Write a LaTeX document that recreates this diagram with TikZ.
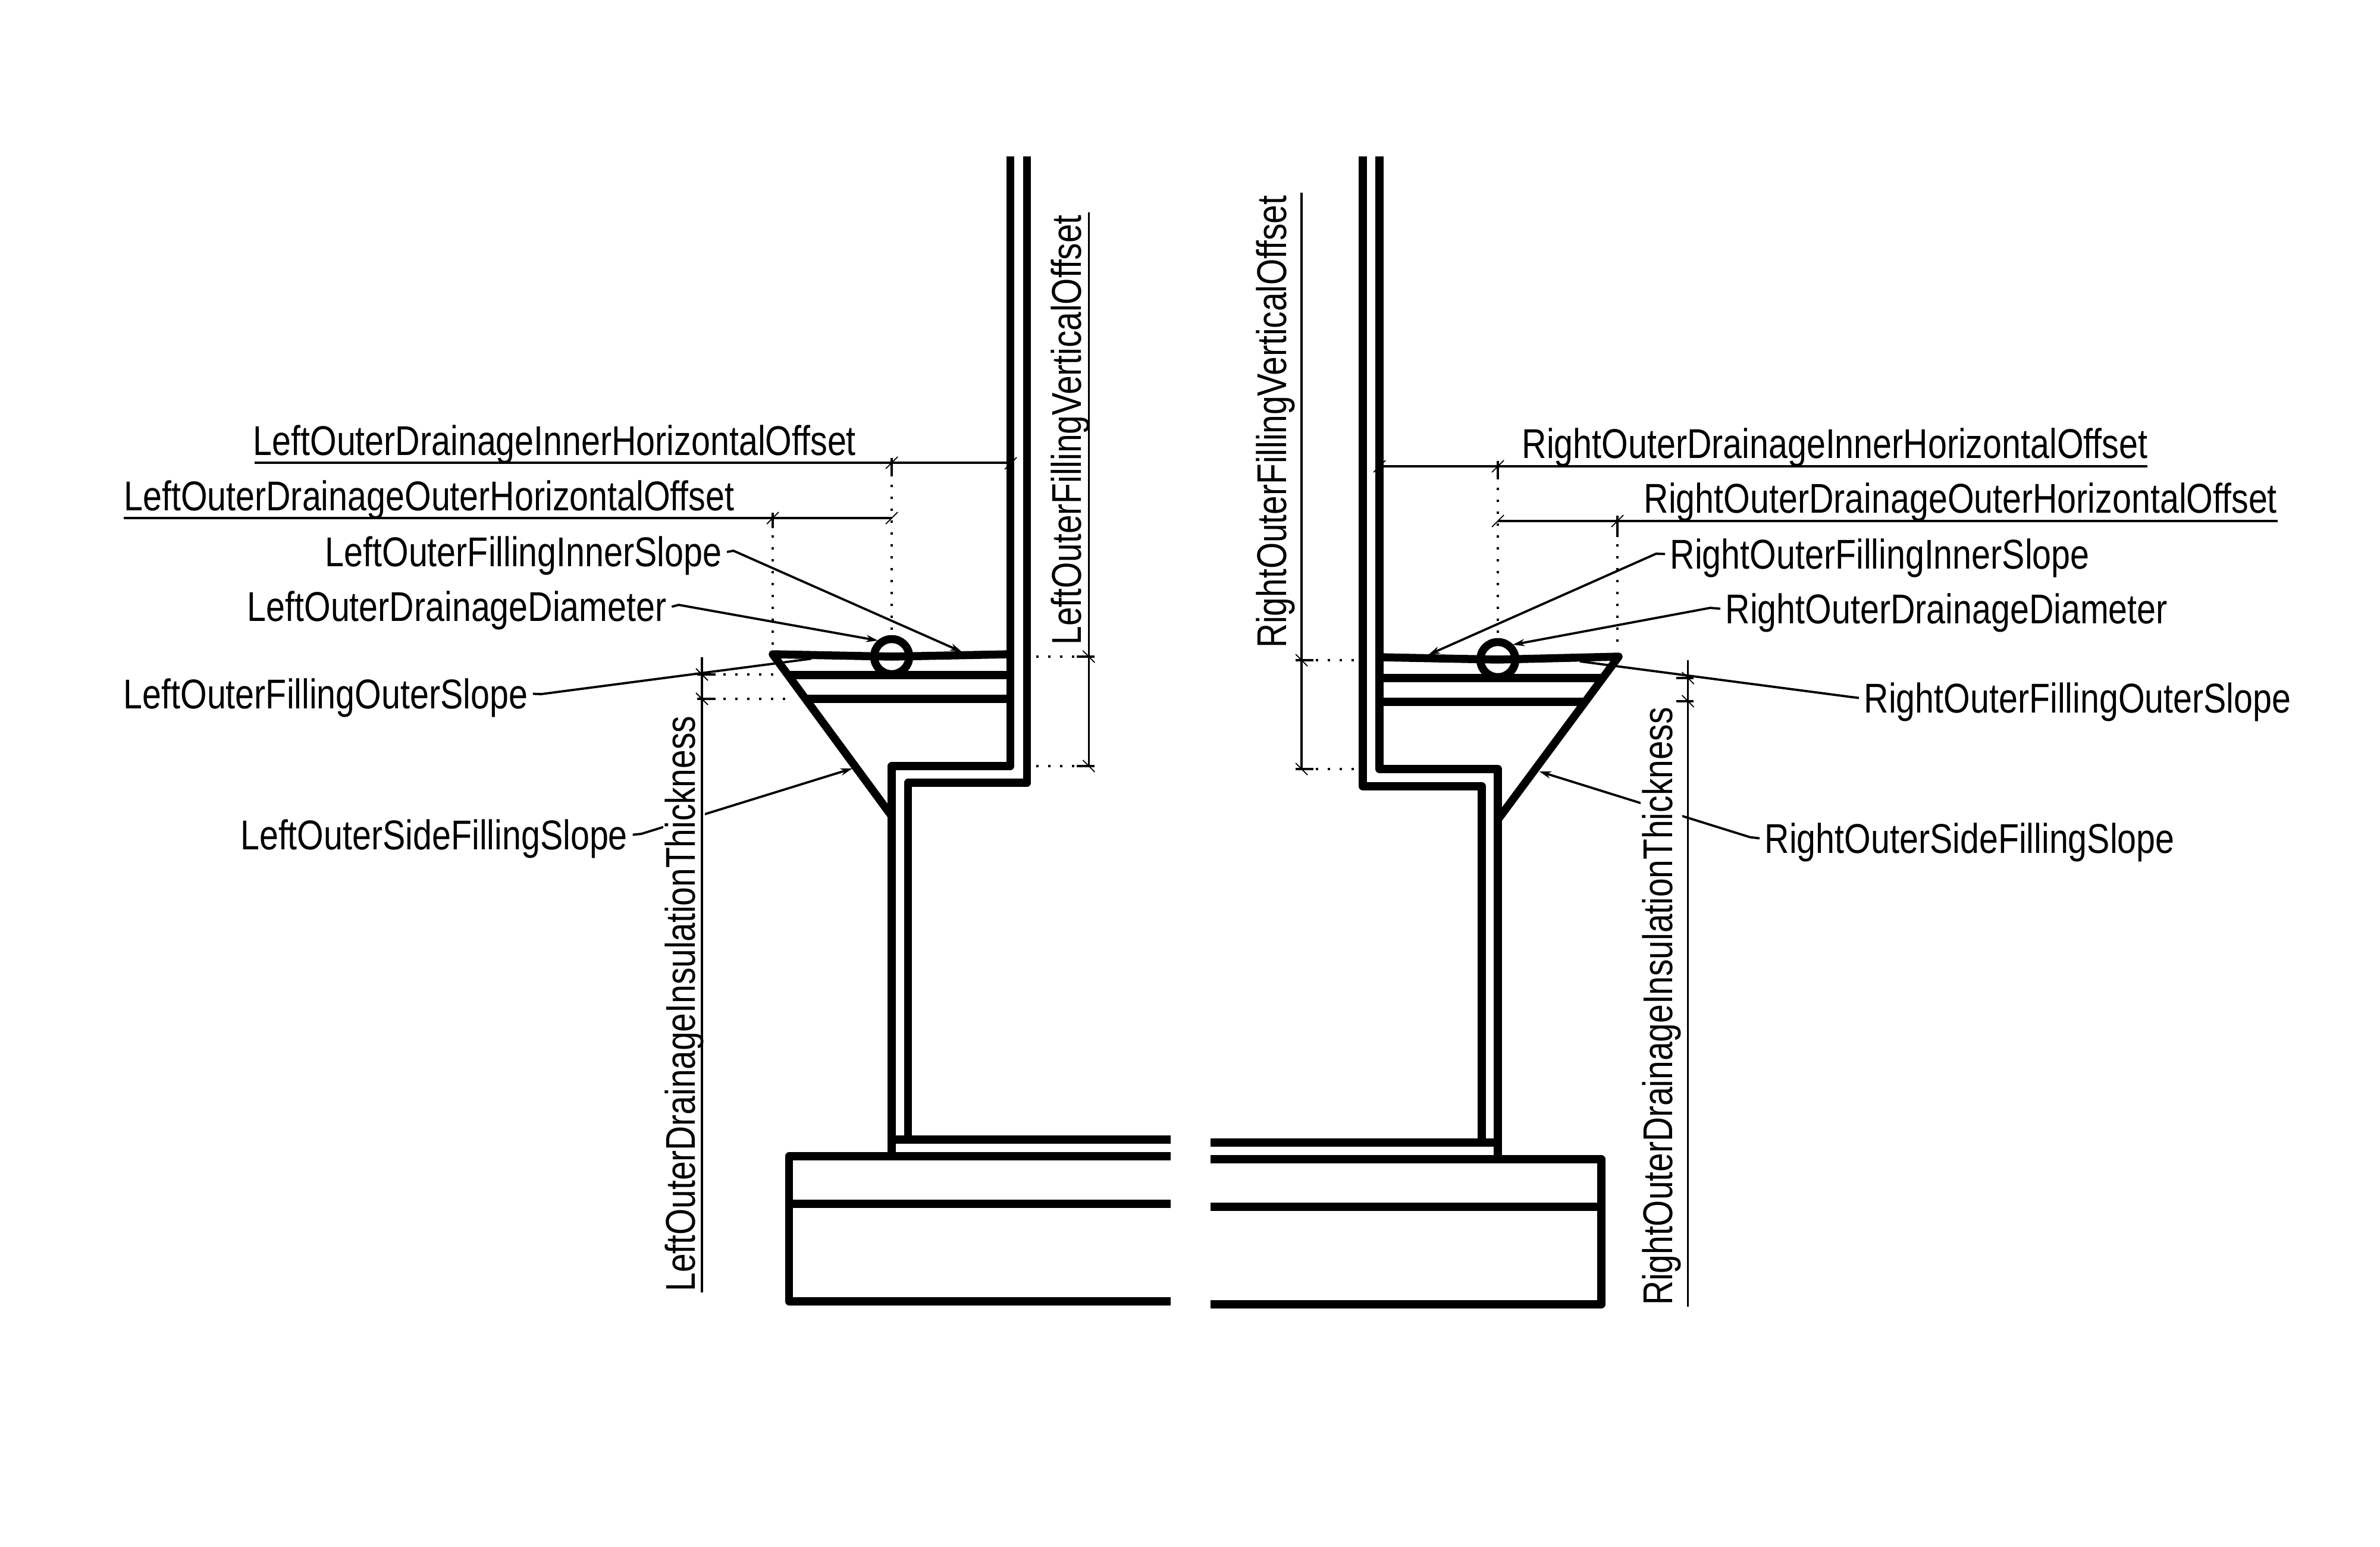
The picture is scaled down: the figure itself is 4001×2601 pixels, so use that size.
\documentclass[tikz,border=0pt]{standalone}
\usepackage{fontspec}
\usetikzlibrary{arrows.meta}
\setmainfont{Liberation Sans}[FakeStretch=0.82]
\newfontfamily\vertfont{Liberation Sans}[FakeStretch=0.813]
\tikzset{
  wall/.style={line width=13.5*0.01cm,line join=round,line cap=butt,draw=black},
  lead/.style={line width=3.8*0.01cm,draw=black,line join=miter},
  arrowlead/.style={lead,-{Stealth[length=20*0.01cm,width=12*0.01cm]}},
  dim/.style={line width=3.2*0.01cm,draw=black},
  tk/.style={line width=1.8*0.01cm,draw=black},
  exdash/.style={line width=4*0.01cm,draw=black},
  dots/.style={line width=4.4*0.01cm,draw=black,dash pattern=on 4.4*0.01cm off 15.6*0.01cm},
  lab/.style={font=\fontsize{19.9pt}{19.9pt}\selectfont,inner sep=8*0.01cm,text height=0.55cm,text depth=0.06cm},
  labw/.style={lab,anchor=base west},
  vlab/.style={font=\vertfont\fontsize{19.9pt}{19.9pt}\selectfont,rotate=90,anchor=base east,inner sep=2*0.01cm,fill=white},
  vlabn/.style={font=\vertfont\fontsize{19.9pt}{19.9pt}\selectfont,rotate=90,anchor=base east,inner sep=0pt}
}
\begin{document}
\begin{tikzpicture}[x=0.01cm,y=-0.01cm]
\useasboundingbox (0,0) rectangle (4001,2601);
% ---- left structure
\draw[wall] (1698.5,263)--(1698.5,1288)--(1499,1288)--(1499,1944);
\draw[wall] (1726.5,263)--(1726.5,1316)--(1526.5,1316)--(1526.5,1916);
\draw[wall] (1499,1372)--(1299,1100)--(1499,1104)--(1698.5,1100);
\draw[wall] (1325,1135)--(1698.5,1135);
\draw[wall] (1354,1175)--(1698.5,1175);
\draw[wall] (1499,1104) circle (29.5);
\draw[wall] (1499,1916)--(1968,1916);
\draw[wall] (1968,1944)--(1326.5,1944)--(1326.5,2188)--(1968,2188);
\draw[wall] (1326.5,2024)--(1968,2024);
% ---- right structure
\draw[wall] (2319,263)--(2319,1293)--(2518,1293)--(2518,1949);
\draw[wall] (2291,263)--(2291,1322)--(2491,1322)--(2491,1921);
\draw[wall] (2518,1378)--(2721,1104)--(2518,1109)--(2319,1105);
\draw[wall] (2694,1140)--(2319,1140);
\draw[wall] (2665,1180)--(2319,1180);
\draw[wall] (2518,1109) circle (29.5);
\draw[wall] (2518,1921)--(2035,1921);
\draw[wall] (2035,1949)--(2692,1949)--(2692,2193)--(2035,2193);
\draw[wall] (2035,2029)--(2692,2029);
% ---- extension dots, left
\draw[exdash] (1299,862)--(1299,888);
\draw[dots] (1299,900)--(1299,1087);
\draw[exdash] (1499,770)--(1499,801);
\draw[dots] (1499,815)--(1499,1085);
\draw[exdash] (1172,1134)--(1203,1134);
\draw[dots] (1216,1134)--(1305,1134);
\draw[exdash] (1172,1175)--(1203,1175);
\draw[dots] (1216,1175)--(1330,1175);
\draw[exdash] (1810,1104)--(1840,1104);
\draw[dots] (1806.2,1104)--(1742,1104);
\draw[exdash] (1810,1288)--(1840,1288);
\draw[dots] (1806.2,1288)--(1742,1288);
% ---- extension dots, right
\draw[exdash] (2518,775)--(2518,806);
\draw[dots] (2518,820)--(2518,1088);
\draw[exdash] (2719,867)--(2719,903);
\draw[dots] (2719,915)--(2719,1082);
\draw[exdash] (2178,1110)--(2208,1110);
\draw[dots] (2212,1110)--(2278,1110);
\draw[exdash] (2178,1293)--(2208,1293);
\draw[dots] (2212,1293)--(2278,1293);
\draw[exdash] (2818,1140)--(2847,1140);
\draw[exdash] (2818,1179)--(2847,1179);
% ---- leaders that pass behind the vertical labels
\coordinate (l6b) at (1078,1402);
\coordinate (l6t) at (1433,1292);
\coordinate (r6b) at (2942,1407.6);
\coordinate (r6t) at (2587.5,1297);
\node[labw] (L6) at (395.5,1428) {LeftOuterSideFillingSlope};
\node[labw] (R6) at (2958,1434) {RightOuterSideFillingSlope};
\draw[arrowlead] (L6.east)--(l6b)--(l6t);
\draw[arrowlead] (R6.west)--(r6b)--(r6t);
% ---- dimension lines
\coordinate (dv1t) at (1830.4,357); \coordinate (dv1b) at (1830.4,1288);
\coordinate (dv2t) at (1180,1105);  \coordinate (dv2b) at (1180,2173);
\coordinate (dv3t) at (2188,324);   \coordinate (dv3b) at (2188,1293);
\coordinate (dv4t) at (2837.5,1110);\coordinate (dv4b) at (2837.5,2197);
\draw[dim] (dv1t)--(dv1b);
\draw[dim] (dv3t)--(dv3b);
\coordinate (dh1a) at (428,778); \coordinate (dh1b) at (1698,778);
\coordinate (dh2a) at (207.5,871); \coordinate (dh2b) at (1499,871);
\coordinate (dh3a) at (2319,784); \coordinate (dh3b) at (3610,784);
\coordinate (dh4a) at (2518,876); \coordinate (dh4b) at (3829,876);
\draw[dim] (dh1a)--(dh1b);
\draw[dim] (dh2a)--(dh2b);
\draw[dim] (dh3a)--(dh3b);
\draw[dim] (dh4a)--(dh4b);
% ---- ticks
\foreach \x/\y in {1180/1134,1180/1175,1830.4/1104,1830.4/1288,2188/1110,2188/1293,2837.5/1140,2837.5/1179}
  \draw[tk] (\x-10,\y-10)--(\x+10,\y+10);
\foreach \x/\y in {1699/779,1499/778,1499/871,1299/871,2319/784,2518/784,2518/876,2719/876}
  \draw[tk] (\x-10,\y+10)--(\x+10,\y-10);
% ---- horizontal labels
\node[labw] (L1) at (417,766) {LeftOuterDrainageInnerHorizontalOffset};
\node[labw] (L2) at (199.6,858) {LeftOuterDrainageOuterHorizontalOffset};
\node[labw] (L3) at (538,952.5) {LeftOuterFillingInnerSlope};
\node[labw] (L4) at (407,1044.6) {LeftOuterDrainageDiameter};
\node[labw] (L5) at (199,1191) {LeftOuterFillingOuterSlope};
\node[labw] (R1) at (2550,770.6) {RightOuterDrainageInnerHorizontalOffset};
\node[labw] (R2) at (2755,863) {RightOuterDrainageOuterHorizontalOffset};
\node[labw] (R3) at (2799,956) {RightOuterFillingInnerSlope};
\node[labw] (R4) at (2892,1048) {RightOuterDrainageDiameter};
\node[labw] (R5) at (3125,1198) {RightOuterFillingOuterSlope};
% ---- leaders
\coordinate (l3b) at (1233,926); \coordinate (l3t) at (1617,1096);
\coordinate (l4b) at (1141,1017); \coordinate (l4t) at (1476,1077);
\coordinate (l5b) at (910,1167); \coordinate (l5t) at (1364,1107.5);
\coordinate (r3b) at (2784,931); \coordinate (r3t) at (2401,1101);
\coordinate (r4b) at (2875,1022); \coordinate (r4t) at (2543,1084);
\coordinate (r5b) at (3109,1171.5); \coordinate (r5t) at (2656,1112);
\draw[arrowlead] (L3.east)--(l3b)--(l3t);
\draw[arrowlead] (L4.east)--(l4b)--(l4t);
\draw[lead] (L5.east)--(l5b)--(l5t);
\draw[arrowlead] (R3.west)--(r3b)--(r3t);
\draw[arrowlead] (R4.west)--(r4b)--(r4t);
\draw[lead] (R5.west)--(r5b)--(r5t);
% ---- vertical labels
\node[vlabn] (V1) at (1817,360.5) {LeftOuterFillingVerticalOffset};
\node[vlabn] (V3) at (2162,328) {RightOuterFillingVerticalOffset};
\node[vlab] (V2) at (1168,1201) {LeftOuterDrainageInsulationThickness};
\node[vlab] (V4) at (2811,1186.5) {RightOuterDrainageInsulationThickness};
\draw[dim] (dv2t)--(dv2b);
\draw[dim] (dv4t)--(dv4b);
\end{tikzpicture}
\end{document}
